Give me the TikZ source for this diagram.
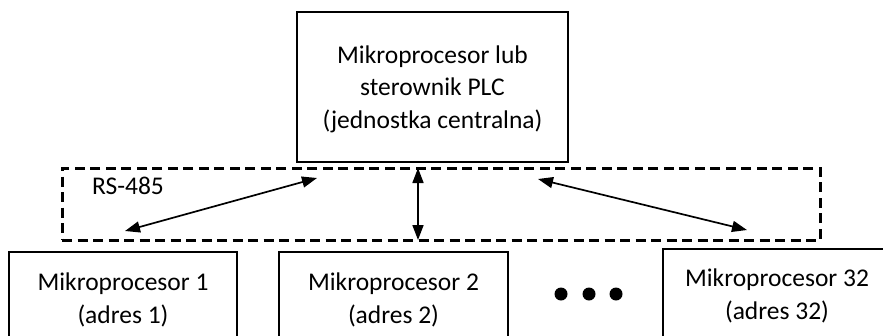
\documentclass[tikz,border=0pt]{standalone}
\usepackage{fontspec}
\setmainfont{Carlito}
\usetikzlibrary{arrows.meta}
\begin{document}
\begin{tikzpicture}[x=1pt,y=-1pt,
  box/.style={draw,line width=1.5pt,inner sep=0pt},
  lbl/.style={align=center,font=\fontsize{25.5}{32.5}\selectfont,inner sep=0pt},
  bus/.style={draw,dash pattern=on 10pt off 5.5pt,line width=3pt},
  link/.style={line width=1.7pt,{Triangle[length=15pt,width=11pt]}-{Triangle[length=15pt,width=11pt]}},
  dot/.style={circle,fill,inner sep=0pt,minimum size=13pt}]
\useasboundingbox (0,0) rectangle (883,335);
% central unit
\node[box,minimum width=271pt,minimum height=150pt] (cpu) at (432.5,87) {};
\node[lbl] (cput) at (432.5,89) {Mikroprocesor lub\\sterownik PLC\\(jednostka centralna)};
% bus
\node[bus,minimum width=758pt,minimum height=72pt] (rs) at (441,204) {};
\node[lbl,anchor=center] (rsl) at (128,186) {RS-485};
% slaves
\node[box,minimum width=228pt,minimum height=100pt] (m1) at (123,302) {};
\node[lbl] (m1t) at (123,300) {Mikroprocesor 1\\(adres 1)};
\node[box,minimum width=229pt,minimum height=100pt] (m2) at (393.5,302) {};
\node[lbl] (m2t) at (393.5,300) {Mikroprocesor 2\\(adres 2)};
\node[box,minimum width=240pt,minimum height=100pt] (m32) at (783,299) {};
\node[lbl] (m32t) at (777,296) {Mikroprocesor 32\\(adres 32)};
% dots
\node[dot] (d1) at (561,294) {};
\node[dot] (d2) at (589,294) {};
\node[dot] (d3) at (616,294) {};
% links
\coordinate (a1) at (125,231);
\coordinate (a2) at (317,178);
\coordinate (b1) at (418,168);
\coordinate (b2) at (418,240);
\coordinate (c1) at (538,179);
\coordinate (c2) at (747,230);
\draw[link] (a1) -- (a2);
\draw[link] (b1) -- (b2);
\draw[link] (c1) -- (c2);
\end{tikzpicture}
\end{document}
